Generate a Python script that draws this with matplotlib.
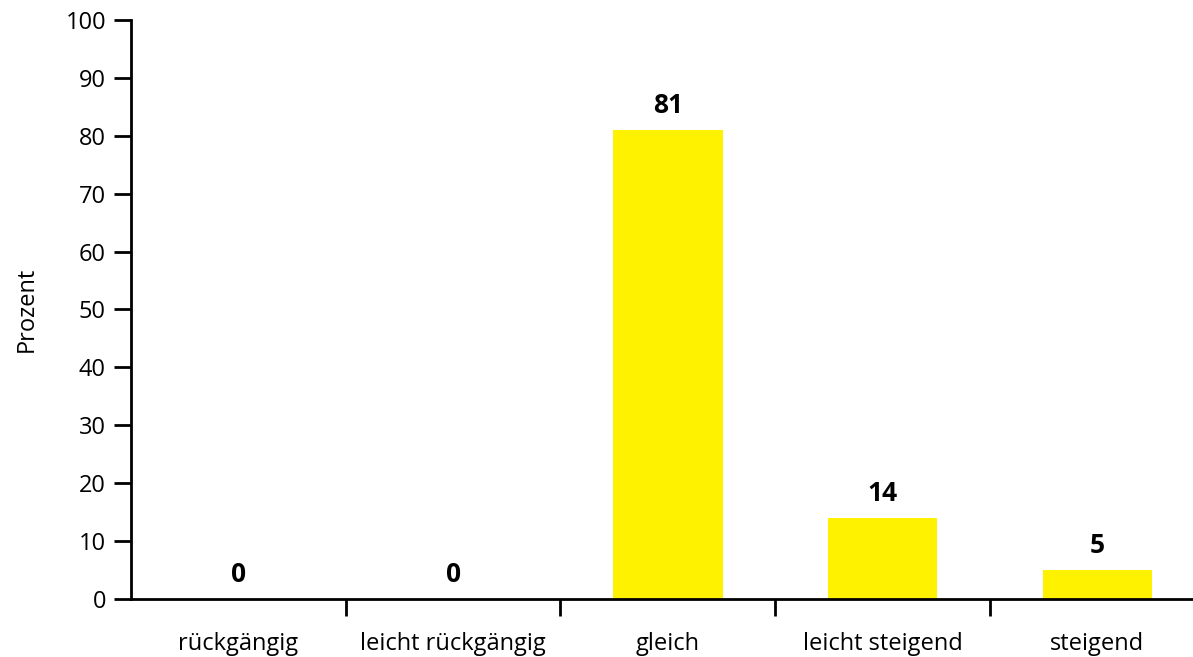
import matplotlib.pyplot as plt
import numpy as np

kategorien = ['rückgängig', 'leicht rückgängig', 'gleich', 'leicht steigend', 'steigend']
prozent = [0, 0, 81, 14, 5]

plt.rcParams['font.family'] = ['Open Sans', 'DejaVu Sans']

fig = plt.figure(figsize=(11.93, 6.57), dpi=100)
# die Achse läuft rechts etwas über den Bildrand hinaus
ax = fig.add_axes([0.1098, 0.0883, 0.9, 0.8813])
ax.spines['bottom'].set_clip_on(False)

x = np.arange(len(kategorien))
ax.bar(x, prozent, width=0.51, color='#FFF200', zorder=2)

for xi, wert in zip(x, prozent):
    ax.annotate(str(wert), (xi, wert), xytext=(0, 8), textcoords='offset points',
                ha='center', va='bottom', fontsize=19, fontweight='bold', color='black')

ax.set_xlim(-0.5, len(kategorien) - 0.5)
ax.set_ylim(0, 100)
ax.set_yticks(np.arange(0, 101, 10))

# Kategorienamen mittig, Trennstriche zwischen den Kategorien
ax.set_xticks(x)
ax.set_xticklabels(kategorien, fontsize=17)
ax.tick_params(axis='x', which='major', length=0, pad=24)
ax.set_xticks(x[:-1] + 0.5, minor=True)
ax.tick_params(axis='x', which='minor', length=12, width=2, direction='out')
ax.tick_params(axis='y', length=12, width=2, labelsize=17, pad=6)

ax.spines['top'].set_visible(False)
ax.spines['right'].set_visible(False)
ax.spines['left'].set_linewidth(2)
ax.spines['bottom'].set_linewidth(2)

ax.set_ylabel('Prozent', fontsize=17, labelpad=19)

plt.savefig('out.png', dpi=100)
